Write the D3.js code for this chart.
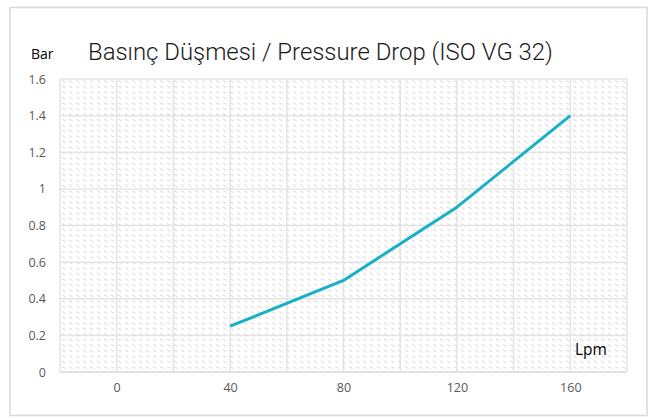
<!DOCTYPE html>
<html><head><meta charset="utf-8">
<script src="https://cdn.jsdelivr.net/npm/d3@7"></script>
<style>body{margin:0;background:#fff;}svg{display:block;}</style>
</head><body>
<svg id="c" width="650" height="418"></svg>
<script>
const flowLpm = [40, 80, 120, 160];
const dropBar = [0.25, 0.5, 0.9, 1.4];
const xTickLabels = [0, 40, 80, 120, 160];
const xGrid = [-20, 0, 20, 40, 60, 80, 100, 120, 140, 160, 180];
const yTicks = [0, 0.2, 0.4, 0.6, 0.8, 1, 1.2, 1.4, 1.6];
const titleText = "Basınç Düşmesi / Pressure Drop (ISO VG 32)";
const yUnit = "Bar";
const xUnit = "Lpm";

const svg = d3.select("#c");
const plot = {l: 60, r: 627, t: 79, b: 372};

const x = d3.scaleLinear().domain([-20, 180]).range([plot.l, plot.r]);
const y = d3.scaleLinear().domain([0, 1.6]).range([plot.b, plot.t]);

// chart border
svg.append("rect").attr("x", 10).attr("y", 7.5).attr("width", 637).attr("height", 408)
  .attr("fill", "#fff").attr("stroke", "#d9d9d9").attr("stroke-width", 1.5);

// pattern
const defs = svg.append("defs");
const pat = defs.append("pattern").attr("id", "hatch").attr("patternUnits", "userSpaceOnUse")
  .attr("width", 7).attr("height", 5.5).attr("x", plot.l).attr("y", plot.t);
pat.append("line").attr("x1", 2).attr("y1", 1.5).attr("x2", 5.5).attr("y2", 3.5)
  .attr("stroke", "#cccccc").attr("stroke-width", 0.9);

svg.append("rect").attr("x", plot.l).attr("y", plot.t)
  .attr("width", plot.r - plot.l).attr("height", plot.b - plot.t)
  .attr("fill", "url(#hatch)");

// grid
const grid = svg.append("g");
grid.selectAll("line.h").data(yTicks).join("line").attr("class", "h")
  .attr("x1", plot.l).attr("x2", plot.r)
  .attr("y1", d => y(d)).attr("y2", d => y(d))
  .attr("stroke", d => d === 0 ? "#d9d9d9" : "#e4e4e4").attr("stroke-width", 1.5);
grid.selectAll("line.v").data(xGrid).join("line").attr("class", "v")
  .attr("y1", plot.t).attr("y2", plot.b)
  .attr("x1", d => x(d)).attr("x2", d => x(d))
  .attr("stroke", "#e4e4e4").attr("stroke-width", 1.5);

// y axis labels via d3 axis
const yAxis = d3.axisLeft(y).tickValues(yTicks).tickSize(0).tickPadding(0)
  .tickFormat(d => d3.format("")(+d.toFixed(1)));
const yg = svg.append("g").attr("transform", `translate(46,0)`).call(yAxis);
yg.select(".domain").remove();
yg.selectAll("text").attr("font-family", "Open Sans").attr("font-size", 12.5)
  .attr("fill", "#595959");

// x axis labels
const xAxis = d3.axisBottom(x).tickValues(xTickLabels).tickSize(0).tickPadding(0);
const xg = svg.append("g").attr("transform", `translate(0,383)`).call(xAxis);
xg.select(".domain").remove();
xg.selectAll("text").attr("font-family", "Open Sans").attr("font-size", 12.5)
  .attr("fill", "#595959");

// line
const line = d3.line().x((d, i) => x(flowLpm[i])).y(d => y(d));
svg.append("path").datum(dropBar).attr("d", line)
  .attr("fill", "none").attr("stroke", "#17b0c6").attr("stroke-width", 3)
  .attr("stroke-linejoin", "round").attr("stroke-linecap", "butt");

// title
const t = svg.append("text").attr("x", 88).attr("y", 59.5)
  .attr("font-family", "Roboto").attr("font-weight", 300).attr("font-size", 22)
  .attr("fill", "#1a1a1a").text(titleText);
const tw = t.node().getComputedTextLength();
t.attr("font-size", 22 * 465 / tw);

svg.append("text").attr("x", 31).attr("y", 59).attr("font-family", "Open Sans")
  .attr("font-size", 14).attr("fill", "#000").text(yUnit);
svg.append("text").attr("x", 575).attr("y", 355).attr("font-family", "Open Sans")
  .attr("font-size", 15.5).attr("fill", "#000").text(xUnit);
</script>
</body></html>
